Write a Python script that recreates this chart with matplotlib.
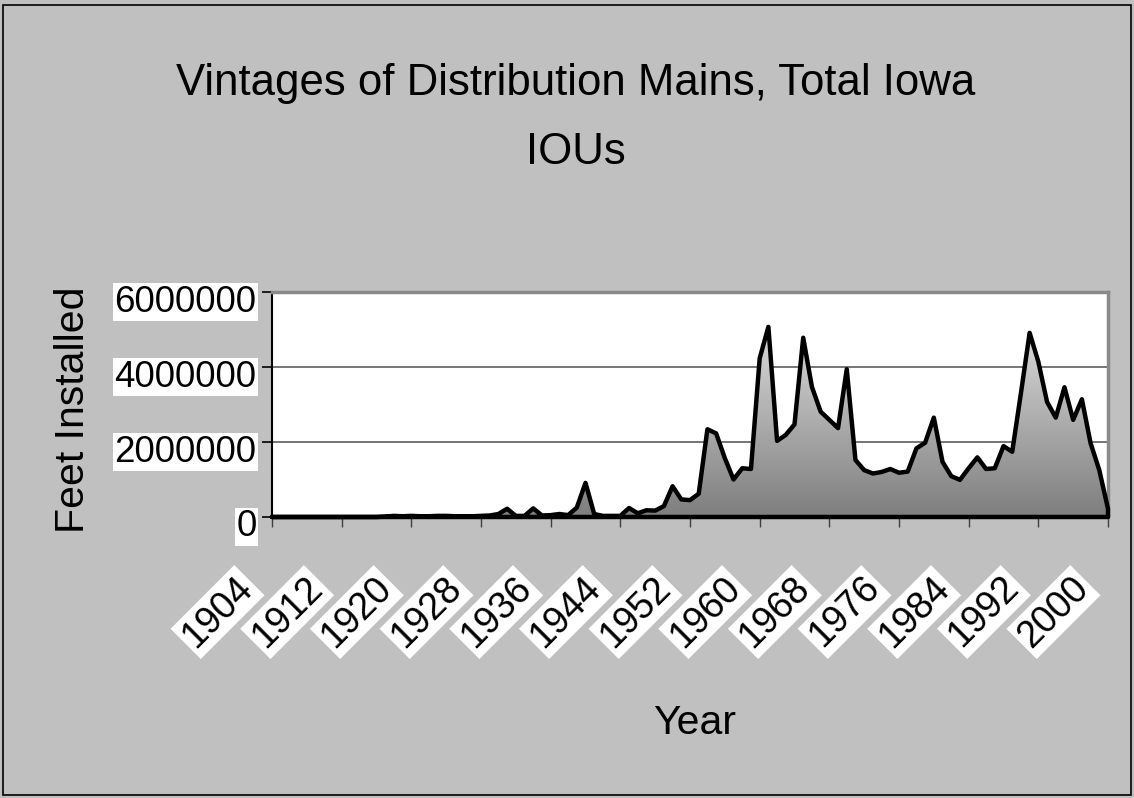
import numpy as np
import matplotlib
matplotlib.use("Agg")
import matplotlib.pyplot as plt
import matplotlib.transforms as mtransforms
from matplotlib.colors import LinearSegmentedColormap
from matplotlib.patches import Rectangle

# feet of distribution mains installed per year
years = list(range(1904, 2001))
feet = [
    0, 0, 0, 0, 0, 0, 0, 0, 0, 0, 0, 0, 0,                 # 1904-1916
    10000, 30000, 20000, 30000,                             # 1917-1920
    20000, 20000, 30000, 30000, 20000, 20000, 20000, 30000, # 1921-1928
    40000, 80000, 220000, 30000, 30000, 230000, 40000, 50000, # 1929-1936
    80000, 50000, 250000, 910000, 80000, 30000, 30000, 30000, # 1937-1944
    240000, 100000, 180000, 170000, 290000, 820000, 470000, 450000, # 1945-1952
    620000, 2340000, 2230000, 1570000, 1000000, 1300000, 1280000, 4230000, # 1953-1960
    5070000, 2030000, 2190000, 2470000, 4780000, 3470000, 2810000, 2590000, # 1961-1968
    2370000, 3940000, 1520000, 1250000, 1160000, 1200000, 1280000, 1180000, # 1969-1976
    1210000, 1830000, 1980000, 2650000, 1470000, 1090000, 990000, 1300000, # 1977-1984
    1590000, 1280000, 1300000, 1890000, 1740000, 3300000, 4910000, 4140000, # 1985-1992
    3070000, 2650000, 3460000, 2590000, 3140000, 1970000, 1250000, 220000,  # 1993-2000
]
tick_years = list(range(1904, 2001, 8))
y_ticks = [0, 2000000, 4000000, 6000000]

plt.rcParams['font.family'] = ['Liberation Sans', 'DejaVu Sans']

fig = plt.figure(figsize=(11.34, 7.98), dpi=100)
fig.patch.set_facecolor('#c0c0c0')
fig.patches.append(Rectangle((3 / 1134, 3 / 798), 1128 / 1134, 790 / 798,
                             transform=fig.transFigure, fill=False,
                             edgecolor='black', linewidth=1.2))

ax = fig.add_axes([272 / 1134, 1 - 517 / 798, 836 / 1134, 225 / 798])
ax.set_facecolor('white')

# gradient fill clipped to the area
poly = ax.fill_between(years, feet, color='none', linewidth=0)
cmap = LinearSegmentedColormap.from_list('g', ['#7e7e7e', '#ececec'])
grad = np.linspace(0, 1, 256).reshape(-1, 1)
img = ax.imshow(grad, cmap=cmap, aspect='auto', origin='lower',
                extent=[1904, 2000, 0, 6000000], zorder=2)
img.set_clip_path(poly.get_paths()[0], transform=ax.transData)
ax.fill_between(years, feet, facecolor='none', edgecolor='black',
                linewidth=3.2, zorder=3, clip_on=False)

ax.set_xlim(1904, 2000)
ax.set_ylim(0, 6000000)
ax.set_yticks(y_ticks)
ax.set_yticklabels([str(v) for v in y_ticks])
ax.set_xticks(tick_years)
ax.set_xticklabels([str(y) for y in tick_years])
ax.grid(axis='y', color='#6a6a6a', linewidth=1.3, zorder=1)
ax.set_axisbelow(True)

for side in ['top', 'right']:
    ax.spines[side].set_color('#8a8a8a')
    ax.spines[side].set_linewidth(2.5)
ax.spines['left'].set_color('black')
ax.spines['left'].set_linewidth(1.5)
ax.spines['bottom'].set_color('black')
ax.spines['bottom'].set_linewidth(1.5)

ax.tick_params(axis='y', direction='out', length=7.2, width=1.2, pad=4,
               labelsize=26.5, colors='black')
ax.tick_params(axis='x', direction='out', length=7.2, width=1.0, pad=40,
               labelsize=27, color='#404040')

down = mtransforms.ScaledTranslation(0, -6 / 100, fig.dpi_scale_trans)
for lab in ax.get_yticklabels():
    lab.set_transform(lab.get_transform() + down)
    lab.set_bbox(dict(facecolor='white', edgecolor='none', pad=1))

left = mtransforms.ScaledTranslation(-25 / 100, 0, fig.dpi_scale_trans)
for lab in ax.get_xticklabels():
    lab.set_rotation(45)
    lab.set_rotation_mode('anchor')
    lab.set_ha('right')
    lab.set_va('center')
    lab.set_transform(lab.get_transform() + left)
    lab.set_bbox(dict(facecolor='white', edgecolor='none', pad=2.5))

ax.set_ylabel('Feet Installed', fontsize=29.5)
ax.yaxis.set_label_coords(-0.215, 0.476)
ax.set_xlabel('Year', fontsize=29.5)
ax.xaxis.set_label_coords(0.506, -0.83)

fig.text(576 / 1134, 1 - 83 / 798, 'Vintages of Distribution Mains, Total Iowa',
         ha='center', va='center', fontsize=31.5)
fig.text(576 / 1134, 1 - 153 / 798, 'IOUs',
         ha='center', va='center', fontsize=31.5)

fig.savefig('out.png', dpi=100, facecolor=fig.get_facecolor())
